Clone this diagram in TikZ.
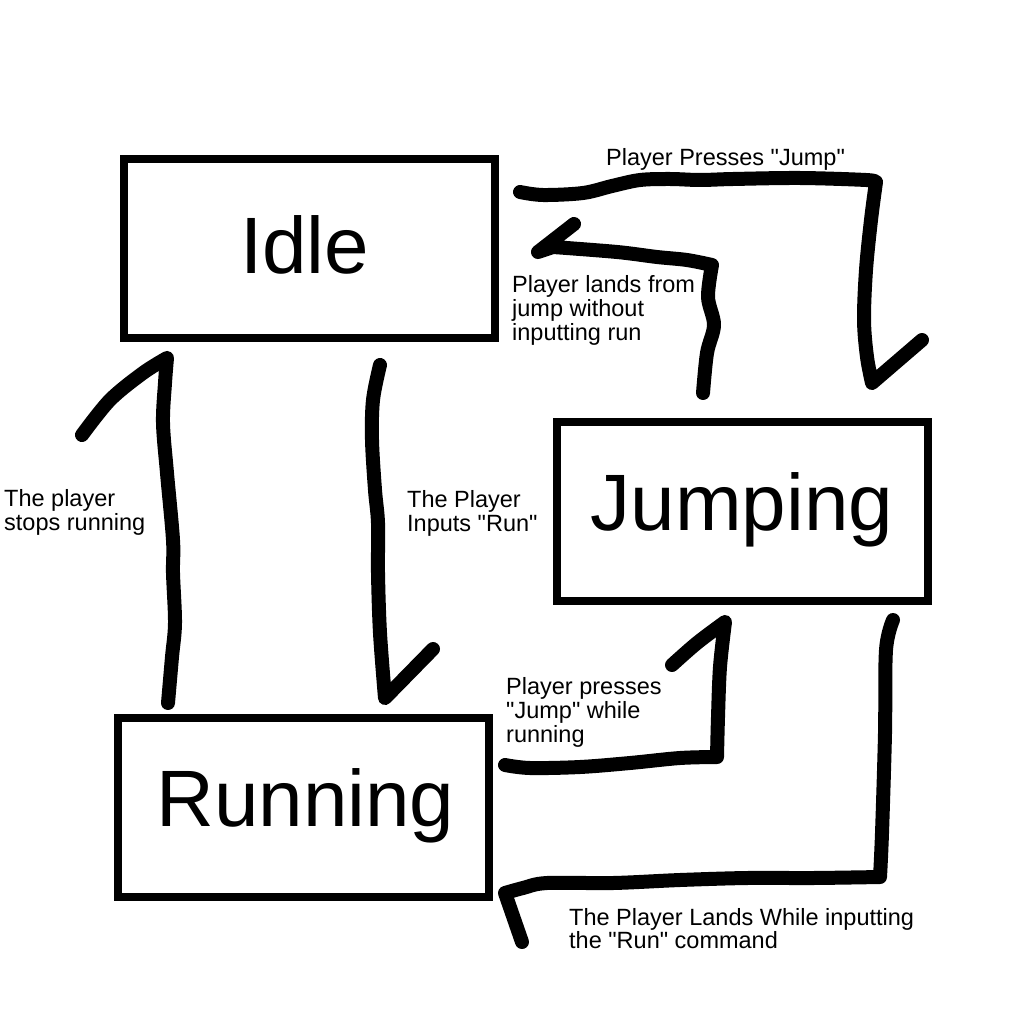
\documentclass[tikz,border=0pt]{standalone}
\usepackage{fontspec}
\setmainfont{Liberation Sans}[Ligatures=TeXOff]
\newcommand{\dq}{\symbol{34}}
\begin{document}
\begin{tikzpicture}[x=1pt,y=-1pt,
  statebox/.style={draw=black,line width=8pt,minimum width=371pt,minimum height=179pt,inner sep=0pt,outer sep=0pt},
  bigtext/.style={font=\fontsize{80}{92}\selectfont,anchor=base,inner sep=0pt},
  lbl/.style={font=\fontsize{23.5}{24}\selectfont,anchor=base west,inner sep=0pt,align=left},
  stroke/.style={line width=14pt,line cap=round,line join=round},
  sm/.style={smooth,tension=0.55}]
\useasboundingbox (0,0) rectangle (1024,1024);
\fill[white] (0,0) rectangle (1024,1024);

% boxes
\node[statebox] (idle) at (309.5,248.5) {};
\node[statebox] (jump) at (742.5,511.5) {};
\node[statebox] (run)  at (303.5,807.5) {};
\node[bigtext] (idlet) at (304.5,273) {Idle};
\node[bigtext] (jumpt) at (742,530) {Jumping};
\node[bigtext] (runt)  at (305.5,826) {Running};

% labels (anchor = baseline of the last line)
\node[lbl] (l1) at (606,166) {Player Presses \dq Jump\dq};
\node[lbl] (l2) at (512,340) {Player lands from\\jump without\\inputting run};
\node[lbl] (l3) at (4,530) {The player\\stops running};
\node[lbl] (l4) at (407,531) {The Player\\Inputs \dq Run\dq};
\node[lbl] (l5) at (506,742) {Player presses\\\dq Jump\dq{} while\\running};
\node[lbl,font=\fontsize{23.5}{21}\selectfont] (l6) at (569,948) {The Player Lands While inputting\\the \dq Run\dq{} command};

% connector end points
\coordinate (a1s) at (520,192);
\coordinate (a1e) at (872,383);
\coordinate (a2s) at (703,393);
\coordinate (a2e) at (538,252);
\coordinate (a3s) at (168,703);
\coordinate (a3e) at (167,358);
\coordinate (a4s) at (380,365);
\coordinate (a4e) at (385,698);
\coordinate (a5s) at (505,765);
\coordinate (a5e) at (725,622);
\coordinate (a6s) at (893,620);
\coordinate (a6e) at (505,893);

% Idle -> Jumping
\draw[stroke] plot[sm] coordinates {(a1s) (543,195) (583,193) (612,186) (640,180) (670,179)
  (700,180) (733,179) (800,178) (866,180) (876,182)}
  -- plot[sm] coordinates {(876,182) (871,220) (866,270) (864,320) (867,357) (a1e)} -- (922,340);
% Jumping -> Idle
\draw[stroke] plot[sm] coordinates {(a2s) (707,353) (714,325) (708,297) (712,265)}
  -- plot[sm] coordinates {(712,265) (687,260) (657,257) (617,252) (553,247)} -- (a2e) -- (574,224);
% Running -> Idle
\draw[stroke] plot[sm] coordinates {(a3s) (172,657) (175,623) (173,573) (173,540) (167,473)
  (163,423) (165,383) (a3e)} -- plot[sm] coordinates {(a3e) (143,373) (110,400) (82,435)};
% Idle -> Running
\draw[stroke] plot[sm] coordinates {(a4s) (373,400) (372,440) (375,490) (378,523) (378,573)
  (380,633) (a4e)} -- (433,649);
% Running -> Jumping
\draw[stroke] plot[sm] coordinates {(a5s) (530,768) (580,767) (630,763) (680,758) (717,757)}
  -- plot[sm] coordinates {(717,757) (718,717) (720,667) (a5e)} -- plot[sm] coordinates {(a5e) (697,643) (672,665)};
% Jumping -> Running
\draw[stroke] plot[sm] coordinates {(a6s) (886,650) (885,733) (882,833) (880,877)}
  -- plot[sm] coordinates {(880,877) (813,878) (747,878) (680,880) (613,883) (547,883) (523,888) (a6e)}
  -- (522,942);
\end{tikzpicture}
\end{document}
